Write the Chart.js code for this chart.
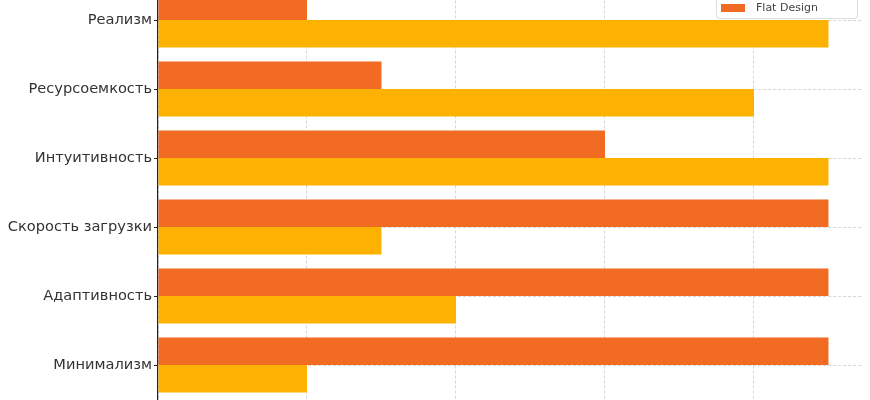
<!DOCTYPE html>
<html>
<head>
<meta charset="utf-8">
<script src="https://cdn.jsdelivr.net/npm/chart.js@4"></script>
<style>
  html, body { margin: 0; padding: 0; background: #fff; overflow: hidden; }
  #wrap { position: absolute; left: 0; top: -40px; width: 870px; height: 460px; }
</style>
</head>
<body>
<div id="wrap"><canvas id="c" width="870" height="460"></canvas></div>
<script>
// Categories, top to bottom
const categories = ['Реализм', 'Ресурсоемкость', 'Интуитивность', 'Скорость загрузки', 'Адаптивность', 'Минимализм'];
const flatDesign = [2, 3, 6, 9, 9, 9];
const skeuomorphism = [9, 8, 9, 3, 4, 2];
const seriesNames = ['Skeuomorphism', 'Flat Design'];
const xTicks = [0, 2, 4, 6, 8];

const ORANGE = '#F26B22';
const YELLOW = '#FDB101';
const GRID = 'rgba(200,200,200,0.75)';

const legendPlugin = {
  id: 'insideLegend',
  afterDraw(chart) {
    const ctx = chart.ctx;
    const ca = chart.chartArea;
    const entries = [
      { label: seriesNames[0], color: YELLOW },
      { label: seriesNames[1], color: ORANGE }
    ];
    const boxW = 141, rowH = 18, boxH = 40;
    const x = ca.right - 5 - boxW;
    const bottom = 58; // canvas coords
    const y = bottom - boxH;
    ctx.save();
    ctx.fillStyle = 'rgba(255,255,255,0.85)';
    ctx.strokeStyle = '#dcdcdc';
    ctx.lineWidth = 1;
    ctx.beginPath();
    ctx.roundRect(x + 0.5, y + 0.5, boxW, boxH, 3);
    ctx.fill();
    ctx.stroke();
    ctx.font = '11px "DejaVu Sans"';
    ctx.textBaseline = 'middle';
    entries.forEach((e, i) => {
      const cy = bottom - 10 - (entries.length - 1 - i) * rowH;
      ctx.fillStyle = e.color;
      ctx.fillRect(x + 5, cy - 4, 24, 8);
      ctx.fillStyle = '#444';
      ctx.fillText(e.label, x + 40, cy);
    });
    ctx.restore();
  }
};

new Chart(document.getElementById('c'), {
  type: 'bar',
  data: {
    labels: categories,
    datasets: [
      { label: seriesNames[1], data: flatDesign, backgroundColor: ORANGE, categoryPercentage: 0.8, barPercentage: 1.0 },
      { label: seriesNames[0], data: skeuomorphism, backgroundColor: YELLOW, categoryPercentage: 0.8, barPercentage: 1.0 }
    ]
  },
  options: {
    indexAxis: 'y',
    responsive: false,
    animation: false,
    layout: { padding: { top: 25.5, right: 8, bottom: 20.5, left: 0 } },
    scales: {
      x: {
        min: 0,
        max: 9.45,
        z: 1,
        afterFit(scale) { scale.height = 0; scale.paddingTop = 0; scale.paddingBottom = 0; },
        afterBuildTicks(scale) { scale.ticks = xTicks.map(v => ({ value: v })); },
        ticks: { display: false },
        border: { display: false, dash: [3, 2] },
        grid: { color: GRID, lineWidth: 1, drawTicks: false }
      },
      y: {
        afterFit(scale) { scale.width = 158; },
        border: { display: true, color: '#222', width: 1.2, dash: [3, 2] },
        grid: { offset: false, color: GRID, lineWidth: 1, drawTicks: true, tickLength: 4, tickColor: '#222', tickWidth: 1 },
        ticks: { color: '#333', padding: 2, font: { family: 'DejaVu Sans', size: 14.6 } }
      }
    },
    plugins: { legend: { display: false }, tooltip: { enabled: false } }
  },
  plugins: [legendPlugin]
});
</script>
</body>
</html>
